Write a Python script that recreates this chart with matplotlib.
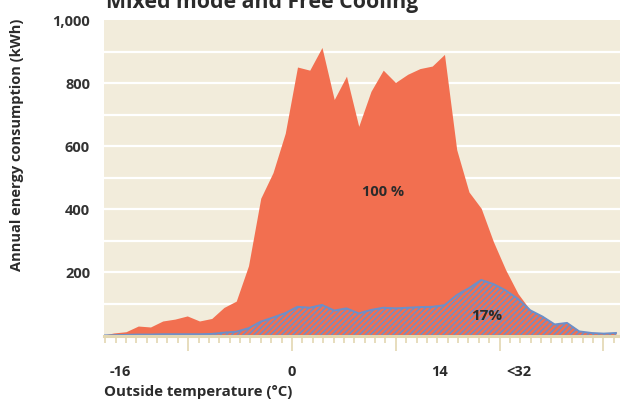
import numpy as np
import matplotlib
matplotlib.use('Agg')
import matplotlib.pyplot as plt
from matplotlib.ticker import MultipleLocator, FixedLocator
import matplotlib.transforms as mtransforms

plt.rcParams['font.family'] = ['Open Sans', 'DejaVu Sans']
plt.rcParams['hatch.linewidth'] = 1.1

# точки данных по температурным интервалам (шаг ~1.18 °C)
temp = np.arange(-1, 42) * 1.18 - 17.17

# 100 % - полное потребление (кВт*ч)
energy_full = [0, 8, 12, 30, 27, 46, 52, 62, 46, 54, 89, 109, 221, 435, 516, 641,
               851, 841, 913, 748, 822, 663, 774, 841, 802, 828, 846, 854, 891,
               589, 455, 403, 297, 208, 133, 81, 62, 37, 42, 15, 9, 7, 9]
# 17 % - смешанный режим и свободное охлаждение
energy_mixed = [0, 1, 2, 3, 3, 4, 4, 4, 4, 5, 9, 12, 23, 44, 57, 71,
                91, 88, 97, 79, 86, 70, 81, 88, 86, 88, 90, 91, 96,
                128, 150, 176, 163, 143, 116, 80, 60, 35, 40, 13, 8, 6, 8]

xlabels = ['-16', '0', '14', '<32']
xlabel_pos = [-16.5, 0, 14.2, 21.9]
yticks = [200, 400, 600, 800, 1000]
ylabels = ['200', '400', '600', '800', '1,000']

red = '#F26F50'
blue = '#6D8FC8'
beige = '#F2ECDB'
tan = '#E3D7B2'
txt = '#2b2b2b'

fig = plt.figure(figsize=(6.2, 4.03), dpi=100)
ax = fig.add_axes([104/620, 1 - 335.5/403, 1 - 104/620, (335.5 - 20)/403])
ax.set_facecolor(beige)

for v in range(100, 1000, 100):
    ax.axhline(v, color='white', lw=1.6, zorder=1)

ax.fill_between(temp, 0, energy_full, color=red, lw=0, zorder=2)
ax.fill_between(temp, 0, energy_mixed, facecolor=red, edgecolor=blue,
                hatch='//////', lw=0, zorder=3)
ax.plot(temp, energy_mixed, color=blue, lw=1.4, zorder=4)

ax.set_xlim(-18.11, 31.6)
ax.set_ylim(0, 1000)

for s in ['top', 'right', 'left']:
    ax.spines[s].set_visible(False)
ax.spines['bottom'].set_color(tan)
ax.spines['bottom'].set_linewidth(2.2)
ax.spines['bottom'].set_zorder(5)

ax.xaxis.set_major_locator(FixedLocator([-10, 0, 10, 20, 30]))
ax.xaxis.set_minor_locator(MultipleLocator(1))
ax.tick_params(axis='x', which='major', length=11, width=1.2, color=tan,
               labelbottom=False)
ax.tick_params(axis='x', which='minor', length=5, width=1.2, color=tan)

ax.set_yticks(yticks)
ax.set_yticklabels(ylabels, fontsize=10.5, fontweight='bold', color='#333333')
ax.tick_params(axis='y', length=0, pad=10)

trans = mtransforms.blended_transform_factory(ax.transData, fig.transFigure)
for lab, pos in zip(xlabels, xlabel_pos):
    ax.text(pos, 1 - 372/403, lab, transform=trans, ha='center', va='center',
            fontsize=10.5, fontweight='bold', color=txt)

fig.text(104/620, 1 - 392/403, 'Outside temperature (°C)', ha='left', va='center',
         fontsize=10.8, fontweight='bold', color=txt)
fig.text(17/620, 1 - 145/403, 'Annual energy consumption (kWh)', rotation=90,
         ha='center', va='center', fontsize=10.5, fontweight='bold', color=txt)
fig.text(106/620, 1 - 8/403, 'Mixed mode and Free Cooling', ha='left',
         va='baseline', fontsize=15.3, fontweight='bold', color=txt)

ax.text(8.77, 456, '100 %', ha='center', va='center', fontsize=10.5,
        fontweight='bold', color=txt, zorder=6)
ax.text(18.76, 62, '17%', ha='center', va='center', fontsize=11,
        fontweight='bold', color=txt, zorder=6)

fig.savefig('out.png', dpi=100)
